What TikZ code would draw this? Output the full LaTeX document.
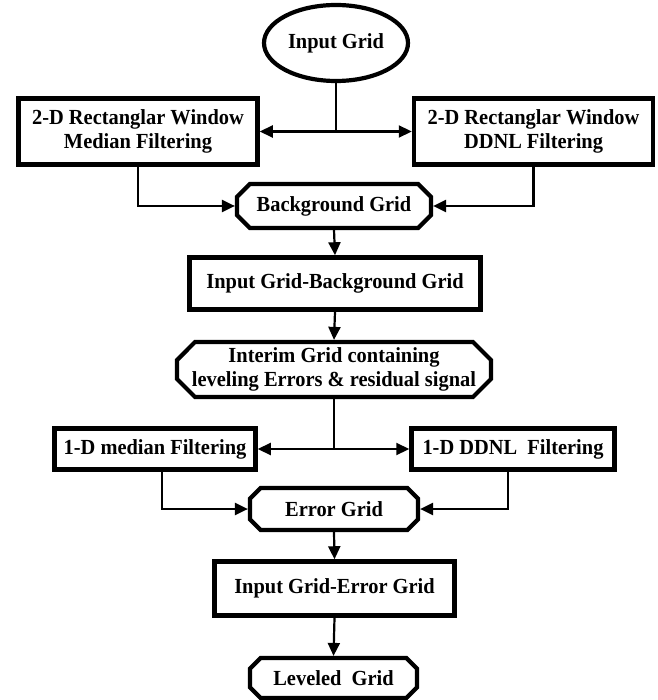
\documentclass[tikz,border=0pt]{standalone}
\usepackage{fontspec}
\setmainfont[FakeStretch=0.95]{Liberation Serif}
\usetikzlibrary{shapes.geometric,shapes.misc,arrows.meta}

\begin{document}
\begin{tikzpicture}[x=1pt,y=-1pt,>={Triangle[length=13pt,width=12pt]},
    every node/.style={font=\fontsize{21.5}{24.5}\selectfont\bfseries,align=center,inner sep=0pt},
    box/.style={draw,line width=4.5pt,rectangle},
    oct/.style={draw,line width=4.2pt,chamfered rectangle,chamfered rectangle xsep=15pt},
    link/.style={line width=2.2pt}]
    \useasboundingbox (0,0) rectangle (657,700);

    % Grids and filters
    \node[draw,ellipse,line width=4.2pt,minimum width=144pt,minimum height=76pt] (input) at (336,43) {Input Grid};
    \node[box,minimum width=239pt,minimum height=66pt] (median2d) at (138,131.5) {2-D Rectanglar Window\\Median Filtering};
    \node[box,minimum width=239pt,minimum height=66pt] (ddnl2d) at (533.5,131.5) {2-D Rectanglar Window\\DDNL Filtering};
    \node[oct,minimum width=194pt,minimum height=44pt] (background) at (334,206) {Background Grid};
    \node[box,minimum width=291pt,minimum height=52pt] (diffbg) at (335,283.5) {Input Grid-Background Grid};
    \node[oct,minimum width=314pt,minimum height=55pt] (interim) at (334,369.5) {Interim Grid containing\\leveling Errors \& residual signal};
    \node[box,minimum width=201pt,minimum height=41pt] (median1d) at (155,449) {1-D median Filtering};
    \node[box,minimum width=203pt,minimum height=41pt] (ddnl1d) at (513,449) {1-D DDNL~~Filtering};
    \node[oct,minimum width=168pt,minimum height=42pt] (error) at (334,509) {Error Grid};
    \node[box,minimum width=240pt,minimum height=54pt] (differr) at (334.5,588.5) {Input Grid-Error Grid};
    \node[oct,minimum width=167pt,minimum height=40pt] (leveled) at (333.5,678) {Leveled~~Grid};

    % Connectors
    \draw[link] (input.south) -- (input.south |- median2d.east);
    \draw[link,<->] (median2d.east) -- (ddnl2d.west);
    \draw[link,->] (median2d.south) |- (background.west);
    \draw[link,->] (ddnl2d.south) |- (background.east);
    \draw[link,->] (background.south) -- (diffbg.north);
    \draw[link,->] (diffbg.south) -- (interim.north);
    \draw[link] (interim.south) -- (interim.south |- median1d.east);
    \draw[link,<->] (median1d.east) -- (ddnl1d.west);
    \draw[link,->] ([xshift=7pt]median1d.south) |- (error.west);
    \draw[link,->] ([xshift=-5pt]ddnl1d.south) |- (error.east);
    \draw[link,->] (error.south) -- (differr.north);
    \draw[link,->] (differr.south) -- (leveled.north);
\end{tikzpicture}
\end{document}
